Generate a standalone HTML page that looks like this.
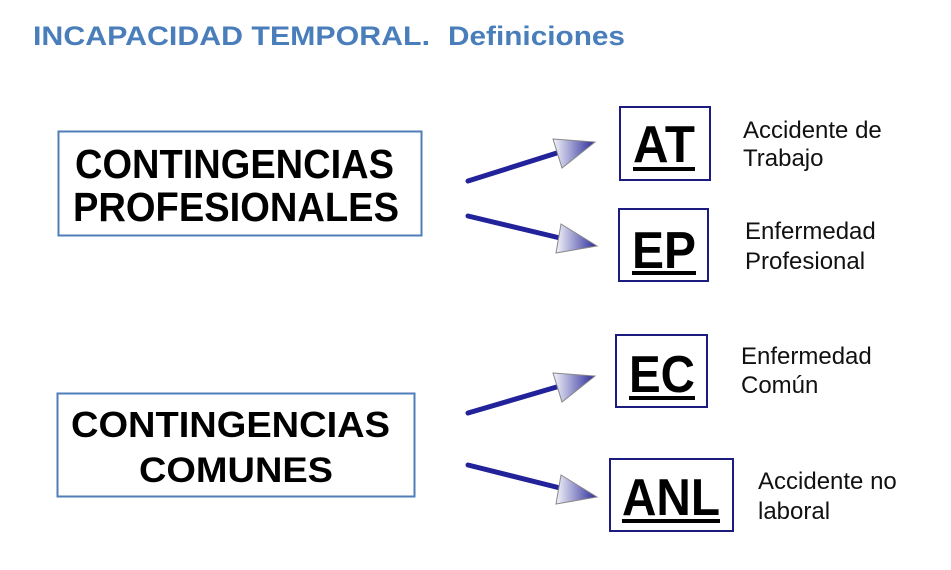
<!DOCTYPE html>
<html><head><meta charset="utf-8"><style>
html,body{margin:0;padding:0;background:#fff;}
svg{display:block;font-family:"Liberation Sans",Arial,sans-serif;}
</style></head><body>
<svg width="951" height="570" viewBox="0 0 951 570" xmlns="http://www.w3.org/2000/svg">
<defs>
<linearGradient id="hg" x1="0" y1="0" x2="1" y2="0">
<stop offset="0" stop-color="#f4f4fa"/><stop offset="1" stop-color="#2a2a9a"/>
</linearGradient>
</defs>
<rect width="951" height="570" fill="#fff"/>
<text x="33" y="45" font-size="27" font-weight="bold" fill="#4a7ebb" textLength="397" lengthAdjust="spacingAndGlyphs">INCAPACIDAD TEMPORAL.</text>
<text x="448" y="45" font-size="27" font-weight="bold" fill="#4a7ebb" textLength="177" lengthAdjust="spacingAndGlyphs">Definiciones</text>

<rect x="58.5" y="131.5" width="363" height="104" fill="none" stroke="#4f7db8" stroke-width="2"/>
<text x="75" y="178" font-size="41" font-weight="bold" textLength="319" lengthAdjust="spacingAndGlyphs">CONTINGENCIAS</text>
<text x="73" y="221" font-size="41" font-weight="bold" textLength="326" lengthAdjust="spacingAndGlyphs">PROFESIONALES</text>

<rect x="57.5" y="393.5" width="357" height="103" fill="none" stroke="#4f7db8" stroke-width="2"/>
<text x="71" y="437" font-size="36" font-weight="bold" textLength="319" lengthAdjust="spacingAndGlyphs">CONTINGENCIAS</text>
<text x="139" y="482" font-size="35" font-weight="bold" textLength="194" lengthAdjust="spacingAndGlyphs">COMUNES</text>

<g stroke="#22229a" stroke-width="5" stroke-linecap="round">
<line x1="468" y1="181" x2="560" y2="152"/>
<line x1="468" y1="216" x2="560" y2="238"/>
<line x1="468" y1="413" x2="560" y2="386"/>
<line x1="468" y1="465" x2="560" y2="488"/>
</g>
<g fill="url(#hg)" stroke="#888" stroke-width="1">
<polygon points="553,139 595,142 562,168"/>
<polygon points="561,224 597,246 556,253"/>
<polygon points="553,373 595,376 562,402"/>
<polygon points="561,475 597,497 556,504"/>
</g>

<g fill="none" stroke="#1c1c80" stroke-width="2">
<rect x="620" y="107" width="90" height="73"/>
<rect x="619" y="209" width="89" height="72"/>
<rect x="616" y="335" width="91" height="72"/>
<rect x="610" y="459" width="123" height="72"/>
</g>
<g font-size="52" font-weight="bold">
<text x="633" y="162" textLength="62" lengthAdjust="spacingAndGlyphs">AT</text>
<text x="632" y="268" textLength="64" lengthAdjust="spacingAndGlyphs">EP</text>
<text x="629" y="392" textLength="66" lengthAdjust="spacingAndGlyphs">EC</text>
<text x="622" y="515" textLength="98" lengthAdjust="spacingAndGlyphs">ANL</text>
</g>
<g fill="#000">
<rect x="633" y="167" width="62" height="4"/>
<rect x="632" y="271" width="64" height="4"/>
<rect x="629" y="396" width="66" height="4"/>
<rect x="622" y="519" width="98" height="4"/>
</g>
<g font-size="24" fill="#111">
<text x="743" y="138">Accidente de</text>
<text x="743" y="166">Trabajo</text>
<text x="745" y="239">Enfermedad</text>
<text x="745" y="269">Profesional</text>
<text x="741" y="364">Enfermedad</text>
<text x="741" y="393">Común</text>
<text x="758" y="489">Accidente no</text>
<text x="758" y="519">laboral</text>
</g>
</svg>
</body></html>
